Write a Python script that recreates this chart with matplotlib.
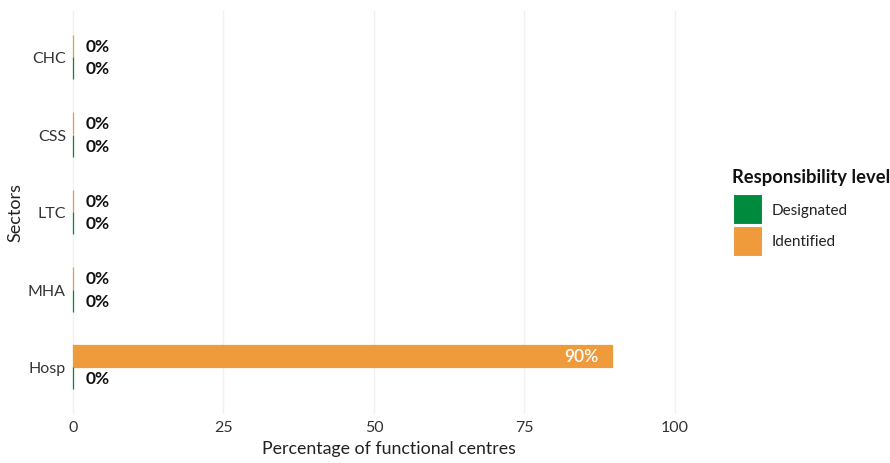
import matplotlib
matplotlib.use("Agg")
import matplotlib.pyplot as plt
import numpy as np
from matplotlib.patches import Rectangle

plt.rcParams['font.family'] = ['Lato', 'DejaVu Sans']

sectors = ["CHC", "CSS", "LTC", "MHA", "Hosp"]
designated = [0, 0, 0, 0, 0]
identified = [0, 0, 0, 0, 89.5]
labels_designated = ["0%", "0%", "0%", "0%", "0%"]
labels_identified = ["0%", "0%", "0%", "0%", "90%"]
legend_labels = ["Designated", "Identified"]

green = "#008A3D"
orange = "#EF9A3B"

W, H = 890, 464
fig = plt.figure(figsize=(8.9, 4.64), dpi=100)
L, R, T, B = 70, 708, 11.5, 414.5
ax = fig.add_axes([L / W, 1 - B / H, (R - L) / W, (B - T) / H])

y = np.arange(len(sectors))
h = 0.29
ax.barh(y - h/2, identified, height=h, color=orange, edgecolor=orange, linewidth=0.9)
ax.barh(y + h/2, designated, height=h, color=green, edgecolor=green, linewidth=0.9)

for i in range(len(sectors)):
    v = identified[i]
    if v > 10:
        ax.text(v - 2.2, y[i] - h/2, labels_identified[i], ha='right', va='center',
                color='white', fontsize=12.5, fontweight='semibold')
    else:
        ax.text(v + 2.1, y[i] - h/2, labels_identified[i], ha='left', va='center',
                color='#111111', fontsize=12.5, fontweight='bold')
    v = designated[i]
    ax.text(v + 2.1, y[i] + h/2, labels_designated[i], ha='left', va='center',
            color='#111111', fontsize=12.5, fontweight='bold')

ax.set_ylim(len(sectors) - 0.4, -0.6)
ax.set_xlim(-0.5, 105.5)
ax.set_xticks([0, 25, 50, 75, 100])
ax.set_xticklabels(["0", "25", "50", "75", "100"])
ax.set_yticks(y)
ax.set_yticklabels(sectors)
ax.tick_params(axis='both', length=0, labelsize=11.5, colors='#333333')
ax.tick_params(axis='x', pad=5)
ax.tick_params(axis='y', pad=3)
for s in ax.spines.values():
    s.set_visible(False)
ax.grid(axis='x', color='#F0F0F0', linewidth=1)
ax.set_axisbelow(True)
ax.set_xlabel("Percentage of functional centres", fontsize=12.8, color='#222222', labelpad=4)
ax.set_ylabel("Sectors", fontsize=13, color='#222222')
ax.yaxis.label.set_va('center')
ax.yaxis.set_label_coords((15 - L) / (R - L), 0.5)

# legend drawn in pixel coordinates
def px(x, yy):
    return x / W, 1 - yy / H

fig.text(*px(732, 177), "Responsibility level", fontsize=13.2, fontweight='bold',
         color='#111111', ha='left', va='center')
for k, (lab, col) in enumerate(zip(legend_labels, [green, orange])):
    top = 195 + k * 31.5
    x0, y0 = px(733, top + 30)
    fig.add_artist(Rectangle((x0, y0), 29 / W, 30 / H, transform=fig.transFigure,
                             facecolor=col, edgecolor='white', linewidth=0.8))
    fig.text(*px(772, top + 16), lab, fontsize=11, color='#222222', ha='left', va='center')

fig.savefig("out.png", dpi=100)
